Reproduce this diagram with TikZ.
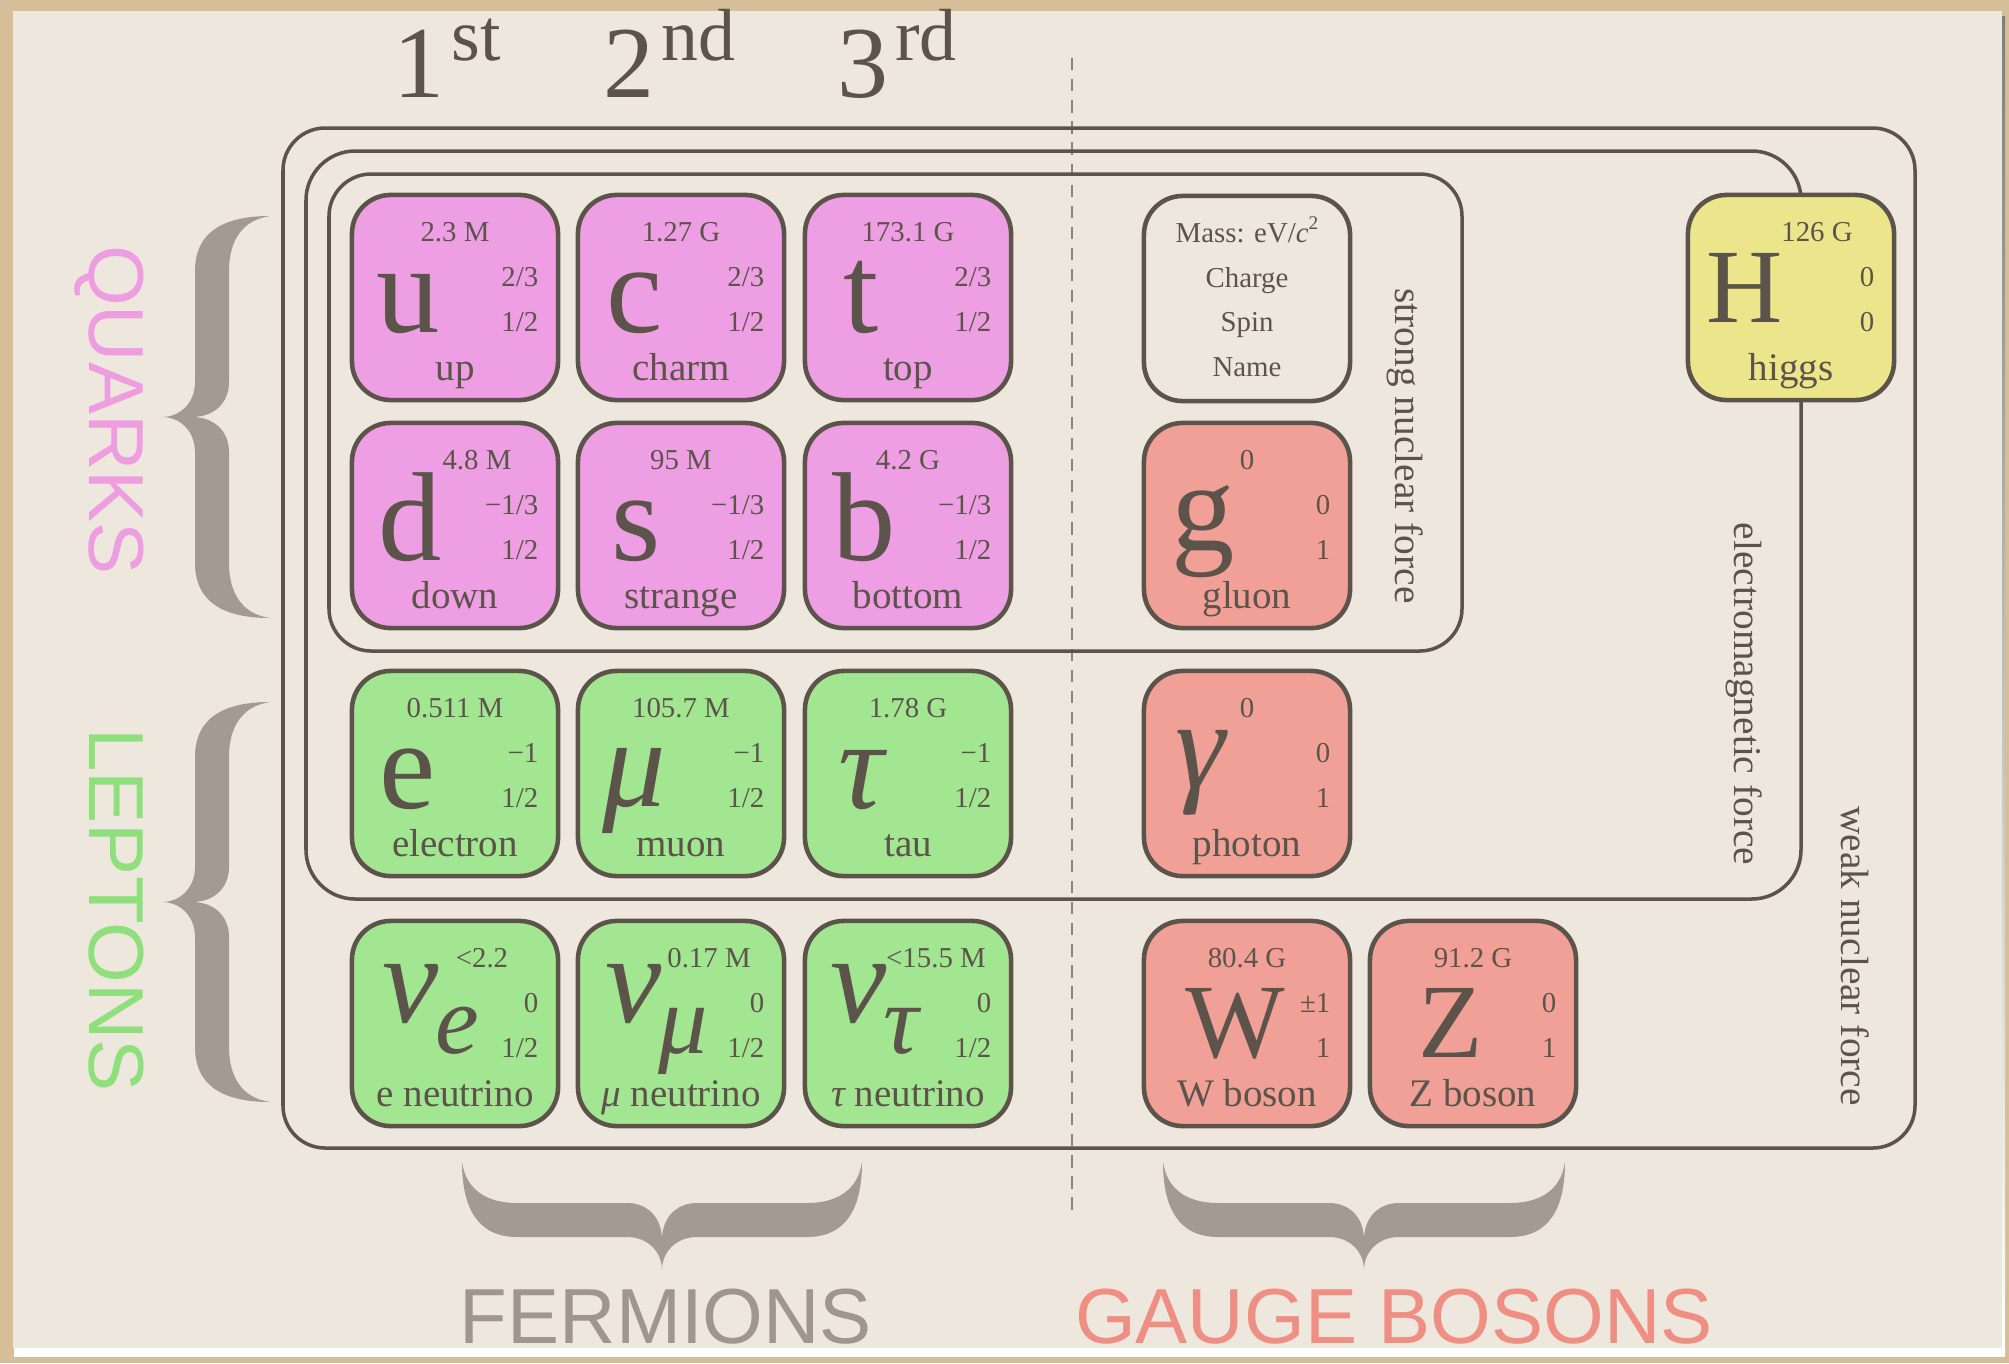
\documentclass[tikz,border=0pt]{standalone}
\usepackage{fontspec}
\setmainfont{Liberation Serif}
\newfontfamily\sansfnt{Liberation Sans}
\usetikzlibrary{calc}
\definecolor{ink}{RGB}{92,84,74}
\definecolor{paper}{RGB}{237,231,222}
\definecolor{tanbg}{RGB}{214,190,152}
\definecolor{shade}{RGB}{150,134,112}
\definecolor{quark}{RGB}{238,158,226}
\definecolor{lepton}{RGB}{162,230,146}
\definecolor{boson}{RGB}{240,160,150}
\definecolor{higgscol}{RGB}{235,230,140}
\definecolor{bracecol}{RGB}{163,155,146}
\definecolor{dashcol}{RGB}{140,132,123}
\definecolor{quarktxt}{RGB}{238,157,225}
\definecolor{leptontxt}{RGB}{143,224,125}
\definecolor{bosontxt}{RGB}{239,143,132}
\definecolor{fermtxt}{RGB}{159,151,142}
\newcommand\fsz[1]{\fontsize{#1}{#1}\selectfont}
\newcommand\bracefill[1]{%
 \fill[bracecol] (-#1,-108) .. controls (-#1,-63) and (-#1+15,-33) .. (-#1+55,-33)
   -- (-35,-33) .. controls (-14,-33) and (0,-18) .. (0,0)
   .. controls (0,-18) and (14,-33) .. (35,-33) -- (#1-55,-33)
   .. controls (#1-15,-33) and (#1,-63) .. (#1,-108)
   .. controls (#1-4,-80) and (#1-25,-67) .. (#1-55,-67) -- (35,-67)
   .. controls (14,-67) and (0,-52) .. (0,-30)
   .. controls (0,-52) and (-14,-67) .. (-35,-67) -- (-#1+55,-67)
   .. controls (-#1+25,-67) and (-#1+4,-80) .. (-#1,-108) -- cycle;}
\newcommand\particle[9]{%
  \node[pbox, fill=#4] (#1) at (#2+103, #3+102.5) {};
  \node[smalltxt, anchor=base] (#1-mass) at (#2+103+#6, #3+46) {#5};
  \node[smalltxt, anchor=base east] (#1-charge) at (#2+187, #3+91) {#7};
  \node[smalltxt, anchor=base east] (#1-spin) at (#2+187, #3+136) {#8};
  \node[nametxt, anchor=base] (#1-name) at (#2+103, #3+185) {#9};}
\newcommand\nusym[1]{{\itshape ν}\kern-1pt\raisebox{-9pt}{\fsz{28}\itshape #1}}
\newcommand\gensup[1]{\kern2pt\raisebox{10.5pt}{\fsz{21}#1}}
\begin{document}
\begin{tikzpicture}[x=0.01cm, y=-0.01cm,
  pbox/.style={draw=ink, line width=1.3pt, rounded corners=11pt, minimum width=2.06cm, minimum height=2.05cm, inner sep=0pt, outer sep=0pt},
  smalltxt/.style={text=ink, inner sep=0pt, font=\fsz{8.2}},
  nametxt/.style={text=ink, inner sep=0pt, font=\fsz{11.1}},
  bigsym/.style={text=ink, inner sep=0pt, font=\fsz{36}, anchor=base},
  bigcap/.style={text=ink, inner sep=0pt, font=\fsz{30}, anchor=base},
  frame/.style={draw=ink, line width=1pt, rounded corners=12pt},
  forcetxt/.style={text=ink, inner sep=0pt, font=\fsz{11.2}, rotate=-90},
  gentxt/.style={text=ink, inner sep=0pt, font=\fsz{29}, anchor=base},
  groupsans/.style={inner sep=0pt, font=\sansfnt\fsz{22.2}}]
\useasboundingbox (0,0) rectangle (2009,1363);
% paper
\fill[tanbg] (0,0) rectangle (2009,1363);
\fill[shade] (14,16) rectangle (2005,1356);
\fill[paper] (13,11) rectangle (2002,1348);
% dashed divider
\draw[dashcol, line width=0.8pt, dash pattern=on 3.5pt off 2.5pt] (1072,58) -- (1072,1217);
% force frames
\draw[frame] (283,128) rectangle (1915,1148);
\draw[frame, rounded corners=14pt] (306,151) rectangle (1801,899);
\draw[frame] (329,174) rectangle (1462,651);
\node[forcetxt] (strong) at (1405,446) {strong nuclear force};
\node[forcetxt] (em) at (1744,694) {electromagnetic force};
\node[forcetxt] (weak) at (1855,956) {weak nuclear force};
% generation labels
\node[gentxt] (gen1) at (447,97) {1\gensup{st}};
\node[gentxt] (gen2) at (669,97) {2\gensup{nd}};
\node[gentxt] (gen3) at (897,97) {3\gensup{rd}};
% particles
\particle{u}{352}{195}{quark}{2.3 M}{0}{2/3}{1/2}{up}
\particle{c}{578}{195}{quark}{1.27 G}{0}{2/3}{1/2}{charm}
\particle{t}{805}{195}{quark}{173.1 G}{0}{2/3}{1/2}{top}
\particle{d}{352}{423}{quark}{4.8 M}{22}{−1/3}{1/2}{down}
\particle{s}{578}{423}{quark}{95 M}{0}{−1/3}{1/2}{strange}
\particle{b}{805}{423}{quark}{4.2 G}{0}{−1/3}{1/2}{bottom}
\particle{e}{352}{671}{lepton}{0.511 M}{0}{−1}{1/2}{electron}
\particle{mu}{578}{671}{lepton}{105.7 M}{0}{−1}{1/2}{muon}
\particle{tau}{805}{671}{lepton}{1.78 G}{0}{−1}{1/2}{tau}
\particle{nue}{352}{921}{lepton}{<2.2}{27}{0}{1/2}{e neutrino}
\particle{numu}{578}{921}{lepton}{0.17 M}{28}{0}{1/2}{{\itshape μ} neutrino}
\particle{nutau}{805}{921}{lepton}{<15.5 M}{28}{0}{1/2}{{\itshape τ} neutrino}
\particle{g}{1144}{423}{boson}{0}{0}{0}{1}{gluon}
\particle{gamma}{1144}{671}{boson}{0}{0}{0}{1}{photon}
\particle{W}{1144}{921}{boson}{80.4 G}{0}{±1}{1}{W boson}
\particle{Z}{1370}{921}{boson}{91.2 G}{0}{0}{1}{Z boson}
\particle{H}{1688}{195}{higgscol}{126 G}{26}{0}{0}{higgs}
% legend
\node[pbox] (legend) at (1247,298.5) {};
\node[smalltxt, anchor=base] (lg-mass) at (1247,242) {Mass: eV/{\itshape c}\raisebox{3.5pt}{\fsz{5.5}2}};
\node[smalltxt, anchor=base] (lg-charge) at (1247,287) {Charge};
\node[smalltxt, anchor=base] (lg-spin) at (1247,331) {Spin};
\node[smalltxt, anchor=base] (lg-name) at (1247,376) {Name};
% symbols
\node[bigsym] (u-sym) at (408,332) {u};
\node[bigsym] (c-sym) at (635,332) {c};
\node[bigsym] (t-sym) at (861,332) {t};
\node[bigsym] (d-sym) at (410,560) {d};
\node[bigsym] (s-sym) at (636,560) {s};
\node[bigsym] (b-sym) at (864,560) {b};
\node[bigsym] (g-sym) at (1203,550) {g};
\node[bigsym] (e-sym) at (408,808) {e};
\node[bigsym] (mu-sym) at (634,806) {\itshape μ};
\node[bigsym] (tau-sym) at (861,808) {\itshape τ};
\node[bigsym] (gamma-sym) at (1200,788) {\itshape γ};
\node[bigsym, anchor=base west] (nue-sym) at (382,1022) {\nusym{e}};
\node[bigsym, anchor=base west] (numu-sym) at (605,1022) {\nusym{μ}};
\node[bigsym, anchor=base west] (nutau-sym) at (830,1022) {\nusym{τ}};
\node[bigcap] (W-sym) at (1235,1057) {W};
\node[bigcap] (Z-sym) at (1451,1057) {Z};
\node[bigcap] (H-sym) at (1745,322) {H};
% braces
\begin{scope}[shift={(162,417)}, rotate=-90]\bracefill{201}\end{scope}
\begin{scope}[shift={(162,902)}, rotate=-90]\bracefill{200}\end{scope}
\begin{scope}[shift={(662,1270)}]\bracefill{200}\end{scope}
\begin{scope}[shift={(1364,1270)}]\bracefill{201}\end{scope}
% group labels
\node[groupsans, text=quarktxt, rotate=-90, anchor=base] (quarks) at (90,410) {QUARKS};
\node[groupsans, text=leptontxt, rotate=-90, anchor=base] (leptons) at (90,910) {LEPTONS};
\node[groupsans, text=fermtxt, anchor=base] (fermions) at (666,1343) {FERMIONS};
\node[groupsans, text=bosontxt, anchor=base] (gauge) at (1394,1343) {GAUGE BOSONS};
\end{tikzpicture}
\end{document}
